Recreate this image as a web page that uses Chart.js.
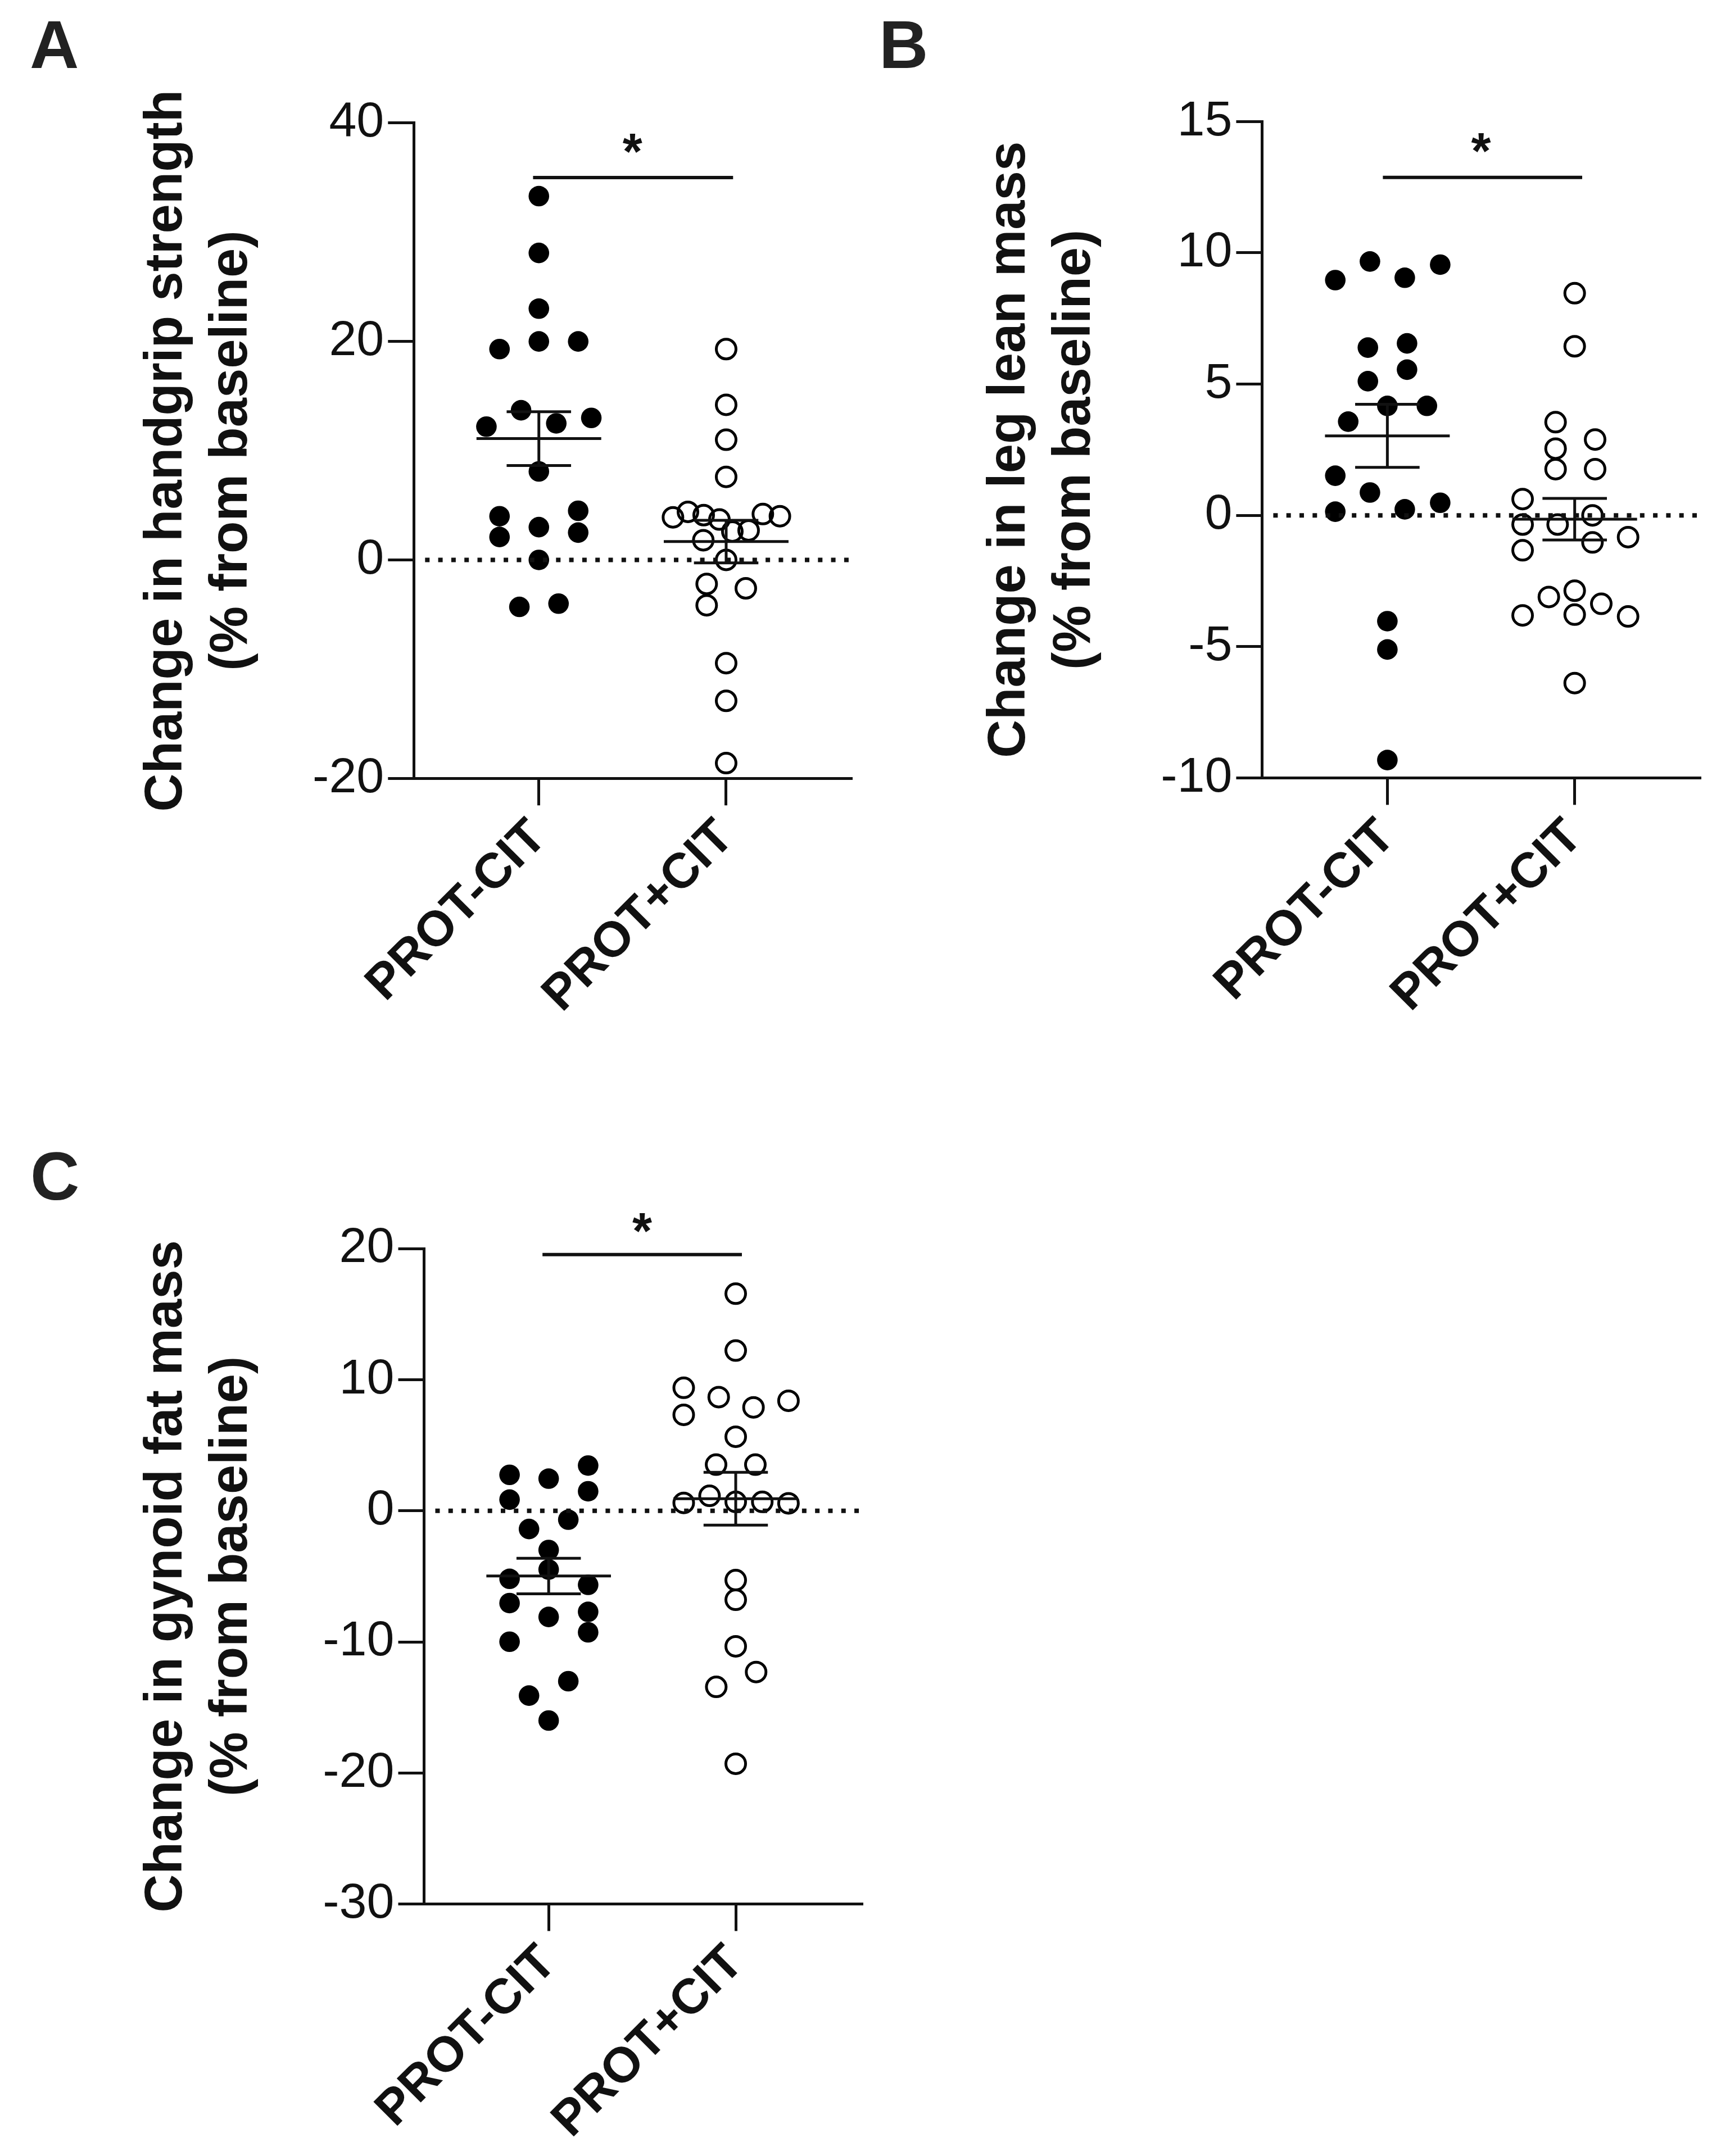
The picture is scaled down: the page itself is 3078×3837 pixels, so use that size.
<!DOCTYPE html>
<html>
<head>
<meta charset="utf-8">
<script src="https://cdn.jsdelivr.net/npm/chart.js@4.4.1/dist/chart.umd.min.js"></script>
<style>
  html, body { margin: 0; padding: 0; background: #fff; }
  body { width: 3078px; height: 3837px; position: relative; overflow: hidden; }
  canvas { position: absolute; }
  .letter { position: absolute; font: bold 121px 'Liberation Sans', Arial, sans-serif; line-height: 1; color: #222; }
</style>
</head>
<body>
<div class="letter" style="left:53px; top:19px">A</div>
<div class="letter" style="left:1564px; top:19px">B</div>
<div class="letter" style="left:54px; top:2033px">C</div>
<canvas id="panelA" width="1560" height="1850" style="left:0; top:0"></canvas>
<canvas id="panelB" width="1578" height="1850" style="left:1500px; top:0"></canvas>
<canvas id="panelC" width="1560" height="1987" style="left:0; top:1850px"></canvas>
<script>
const groups = ['PROT-CIT', 'PROT+CIT'];

// A - handgrip strength (% change from baseline)
const gripMinusCit = [33.3, 28.1, 23.0, 19.3, 20.0, 20.0, 13.7, 12.2, 12.5, 13.0, 8.1, 4.0, 4.5, 2.1, 3.0, 2.5, 0.0, -4.3, -4.0];
const gripMinusCitSpread = [0, 0, 0, -0.21, 0, 0.21, -0.095, -0.28, 0.093, 0.28, 0, -0.21, 0.21, -0.21, 0, 0.21, 0, -0.104, 0.105];
const gripPlusCit = [19.3, 14.2, 11.0, 7.6, 3.9, 4.4, 4.1, 3.7, 4.2, 4.0, 2.6, 2.7, 1.8, 0.0, -2.2, -4.15, -2.6, -9.45, -12.9, -18.6];
const gripPlusCitSpread = [0, 0, 0, 0, -0.284, -0.204, -0.12, -0.036, 0.196, 0.287, 0.033, 0.12, -0.122, 0, -0.104, -0.104, 0.105, 0, 0, 0];
const gripTicks = [-20, 0, 20, 40];
const gripTitle = ['Change in handgrip strength', '(% from baseline)'];

// B - leg lean mass
const legMinusCit = [8.96, 9.67, 9.05, 9.55, 6.39, 6.55, 5.11, 5.55, 4.17, 4.17, 3.57, 1.51, 0.87, 0.14, 0.23, 0.48, -4.03, -5.11, -9.32];
const legMinusCitSpread = [-0.278, -0.093, 0.093, 0.282, -0.104, 0.105, -0.104, 0.105, 0, 0.211, -0.209, -0.278, -0.093, -0.278, 0.093, 0.282, 0, 0, 0];
const legPlusCit = [8.46, 6.44, 3.55, 2.89, 2.54, 1.76, 1.76, 0.62, -0.35, -0.35, 0.0, -1.33, -1.03, -0.83, -3.81, -3.11, -2.87, -3.78, -3.37, -3.85, -6.39];
const legPlusCitSpread = [0, 0, -0.102, 0.109, -0.102, -0.102, 0.109, -0.278, -0.278, -0.091, 0.095, -0.278, 0.095, 0.285, -0.278, -0.138, 0, 0, 0.142, 0.285, 0];
const legTicks = [-10, -5, 0, 5, 10, 15];
const legTitle = ['Change in leg lean mass', '(% from baseline)'];

// C - gynoid fat mass
const fatMinusCit = [2.74, 2.45, 3.45, 0.85, 1.49, -1.39, -0.68, -2.99, -4.48, -5.19, -5.65, -7.04, -7.71, -8.10, -9.99, -9.27, -13.0, -14.1, -16.0];
const fatMinusCitSpread = [-0.209, 0, 0.211, -0.209, 0.211, -0.105, 0.105, 0, 0, -0.209, 0.211, -0.209, 0.211, 0, -0.209, 0.211, 0.105, -0.105, 0];
const fatPlusCit = [16.56, 12.22, 9.38, 7.32, 8.67, 7.89, 8.39, 5.65, 3.52, 3.52, 0.6, 1.14, 0.68, 0.68, 0.57, -5.29, -6.79, -10.34, -12.3, -13.43, -19.3];
const fatPlusCitSpread = [0, 0, -0.278, -0.278, -0.091, 0.095, 0.282, 0, -0.105, 0.105, -0.278, -0.14, 0, 0.142, 0.282, 0, 0, 0, 0.109, -0.104, 0];
const fatTicks = [-30, -20, -10, 0, 10, 20];
const fatTitle = ['Change in gynoid fat mass', '(% from baseline)'];

// significance bars (A, B, C)
const sigBarY = [35.0, 12.87, 19.54];
const sigBarFrom = [0.969, 0.976, 0.967];
const sigBarTo = [2.037, 2.04, 2.033];
const sigStarY = [38.4, 14.29, 22.2];

const INK = '#111';
const FONT = "'Liberation Sans', Arial, Helvetica, sans-serif";
Chart.defaults.font.family = FONT;

function meanSem(v) {
  const n = v.length;
  const m = v.reduce((a, b) => a + b, 0) / n;
  const sd = Math.sqrt(v.reduce((a, b) => a + (b - m) ** 2, 0) / (n - 1));
  return { m, sem: sd / Math.sqrt(n) };
}

// asterisk above the comparison bar
const starPlugin = {
  id: 'sigStar',
  afterDatasetsDraw(chart, args, opts) {
    const { ctx, scales: { x, y } } = chart;
    ctx.save();
    ctx.font = `bold 90px ${FONT}`;
    ctx.fillStyle = INK;
    ctx.textAlign = 'center';
    ctx.textBaseline = 'alphabetic';
    ctx.fillText('*', x.getPixelForValue(opts.x), y.getPixelForValue(opts.y) + 51);
    ctx.restore();
  }
};

function segment(pts, extra) {
  return Object.assign({
    data: pts, showLine: true, pointRadius: 0, borderColor: INK,
    borderWidth: 5, fill: false
  }, extra || {});
}

function makePanel(id, p) {
  const datasets = [];
  datasets.push(segment([{ x: p.xMin + 0.06, y: 0 }, { x: p.xMax, y: 0 }],
    { borderWidth: 8, borderDash: [8, 15.3] }));

  p.series.forEach((s, i) => {
    const c = i + 1;
    const { m, sem } = meanSem(s.values);
    datasets.push(segment([{ x: c - 0.333, y: m }, { x: c + 0.333, y: m }]));
    datasets.push(segment([{ x: c - 0.172, y: m + sem }, { x: c + 0.172, y: m + sem }]));
    datasets.push(segment([{ x: c - 0.172, y: m - sem }, { x: c + 0.172, y: m - sem }]));
    datasets.push(segment([{ x: c, y: m - sem }, { x: c, y: m + sem }]));
    datasets.push({
      data: s.values.map((v, k) => ({ x: c + s.spread[k], y: v })),
      pointRadius: s.filled ? 18.3 : 17.5,
      pointBorderWidth: s.filled ? 0 : 5,
      pointBackgroundColor: s.filled ? '#000' : 'rgba(0,0,0,0)',
      pointBorderColor: '#000'
    });
  });

  datasets.push(segment([{ x: sigBarFrom[p.idx], y: sigBarY[p.idx] }, { x: sigBarTo[p.idx], y: sigBarY[p.idx] }],
    { borderWidth: 6 }));

  new Chart(document.getElementById(id), {
    type: 'scatter',
    data: { datasets },
    plugins: [starPlugin],
    options: {
      responsive: false,
      animation: false,
      devicePixelRatio: 1,
      layout: { padding: { top: p.top, right: p.right, bottom: 0, left: 0 } },
      plugins: {
        legend: { display: false },
        tooltip: { enabled: false },
        sigStar: { x: 1.5, y: sigStarY[p.idx] }
      },
      scales: {
        x: {
          type: 'linear',
          min: p.xMin,
          max: p.xMax,
          afterBuildTicks: (s) => { s.ticks = groups.map((g, i) => ({ value: i + 1 })); },
          afterFit: (s) => { s.height = p.xAxisHeight; },
          ticks: {
            autoSkip: false, minRotation: 45, maxRotation: 45, padding: 6,
            color: INK, font: { size: 88, weight: 'bold' },
            callback: (v) => groups[v - 1]
          },
          grid: { drawOnChartArea: false, drawTicks: true, tickLength: 48, tickWidth: 5, tickColor: INK, color: INK, lineWidth: 5 },
          border: { display: true, color: INK, width: 5 }
        },
        y: {
          type: 'linear',
          min: p.ticks[0],
          max: p.ticks[p.ticks.length - 1],
          afterBuildTicks: (s) => { s.ticks = p.ticks.map((v) => ({ value: v })); },
          afterFit: (s) => { s.width = p.yAxisWidth; },
          ticks: { padding: 7, color: INK, font: { size: 88 } },
          grid: { drawOnChartArea: false, drawTicks: true, tickLength: 46, tickWidth: 5, tickColor: INK, color: INK, lineWidth: 5 },
          border: { display: true, color: INK, width: 5 },
          title: {
            display: true, text: p.title, color: INK,
            font: { size: 94, weight: 'bold', lineHeight: 1.234 },
            padding: { top: 239, bottom: 0 }
          }
        }
      }
    }
  });
}

makePanel('panelA', {
  idx: 0, title: gripTitle, ticks: gripTicks, xMin: 0.3325, xMax: 2.669,
  top: 218.8, right: 45.1, yAxisWidth: 736.3, xAxisHeight: 464.7,
  series: [
    { values: gripMinusCit, spread: gripMinusCitSpread, filled: true },
    { values: gripPlusCit, spread: gripPlusCitSpread, filled: false }
  ]
});

makePanel('panelB', {
  idx: 1, title: legTitle, ticks: legTicks, xMin: 0.331, xMax: 2.667,
  top: 216.3, right: 54, yAxisWidth: 745.4, xAxisHeight: 465.6,
  series: [
    { values: legMinusCit, spread: legMinusCitSpread, filled: true },
    { values: legPlusCit, spread: legPlusCitSpread, filled: false }
  ]
});

makePanel('panelC', {
  idx: 2, title: fatTitle, ticks: fatTicks, xMin: 0.334, xMax: 2.673,
  top: 372.1, right: 27, yAxisWidth: 754.5, xAxisHeight: 448.4,
  series: [
    { values: fatMinusCit, spread: fatMinusCitSpread, filled: true },
    { values: fatPlusCit, spread: fatPlusCitSpread, filled: false }
  ]
});
</script>
</body>
</html>
